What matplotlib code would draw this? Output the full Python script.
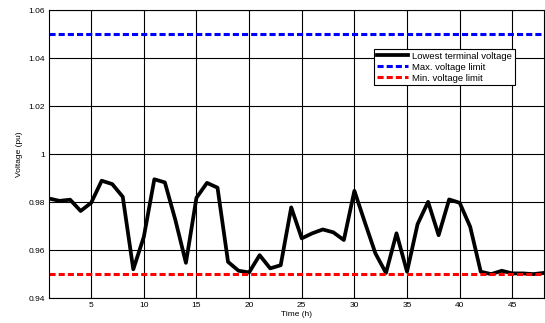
import numpy as np
import matplotlib
matplotlib.use("Agg")
from matplotlib import pyplot as plt

plt.rcParams['font.family'] = ['Liberation Sans', 'DejaVu Sans']

# hourly data
hours = np.arange(1, 49)
lowest_v = [0.9815, 0.9805, 0.981, 0.9763, 0.9797, 0.9889, 0.9875, 0.9822, 0.952, 0.9655,
            0.9895, 0.9882, 0.9725, 0.9547, 0.9818, 0.988, 0.986, 0.9551, 0.9514, 0.9507,
            0.9579, 0.9524, 0.9537, 0.9778, 0.9649, 0.967, 0.9686, 0.9674, 0.9642, 0.9847,
            0.9715, 0.9586, 0.9505, 0.967, 0.951, 0.9708, 0.9801, 0.9662, 0.9811, 0.9797,
            0.9697, 0.951, 0.950, 0.9514, 0.9503, 0.9503, 0.950, 0.9505]
v_max = 1.05
v_min = 0.95
xticks = [5, 10, 15, 20, 25, 30, 35, 40, 45]
yticks = [0.94, 0.96, 0.98, 1.0, 1.02, 1.04, 1.06]
ytick_labels = ['0.94', '0.96', '0.98', '1', '1.02', '1.04', '1.06']

fig = plt.figure(figsize=(5.45, 3.23), dpi=100)
ax = fig.add_axes([0.09, 0.077, 0.908, 0.892])

ax.plot(hours, lowest_v, color='black', lw=2.7, label='Lowest terminal voltage')
ax.plot([hours[0], hours[-1]], [v_max, v_max], color='blue', lw=2.2, ls=(0, (2, 1)),
        label='Max. voltage limit')
ax.plot([hours[0], hours[-1]], [v_min, v_min], color='red', lw=2.2, ls=(0, (2, 1)),
        label='Min. voltage limit')

ax.set_xlim(1, 48)
ax.set_ylim(0.94, 1.06)
ax.set_xticks(xticks)
ax.set_yticks(yticks)
ax.set_yticklabels(ytick_labels)
ax.tick_params(direction='in', labelsize=6, length=2, width=0.6, pad=3)
ax.grid(True, color='black', lw=0.8)
for s in ax.spines.values():
    s.set_linewidth(0.8)

ax.set_xlabel('Time (h)', fontsize=6, labelpad=1)
ax.set_ylabel('Voltage (pu)', fontsize=6, labelpad=4)

leg = ax.legend(loc='upper right', bbox_to_anchor=(0.942, 0.865), fontsize=6.8,
                fancybox=False, framealpha=1, edgecolor='black', borderpad=0.3,
                labelspacing=0.2, handlelength=3.3, handletextpad=0.5, borderaxespad=0)
leg.get_frame().set_linewidth(0.8)

fig.savefig('out.png', dpi=100)
